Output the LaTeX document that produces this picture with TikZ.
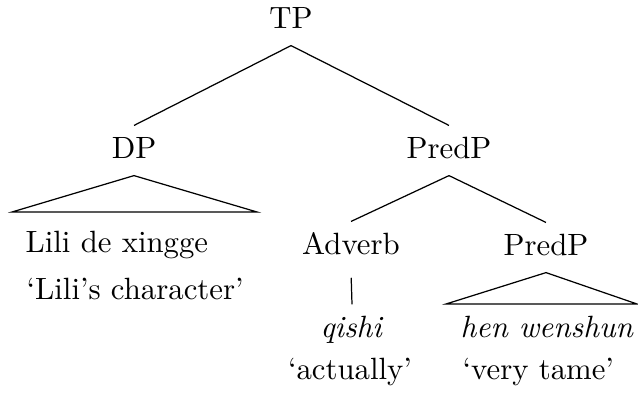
\documentclass[tikz,border=0pt]{standalone}
\usetikzlibrary{positioning,calc}
\tikzset{
  cat/.style={inner xsep=0pt, inner ysep=3.7pt, text height=7pt, text depth=1.5pt, anchor=base},
  leaf/.style={cat},
  gloss/.style={inner sep=0pt, anchor=base},
  branch/.style={line width=0.4pt},
}

\begin{document}
\begin{tikzpicture}[x=0.325pt, y=-0.325pt]
\useasboundingbox (0,0) rectangle (638,403);

% ---------------------------------------------------------------- categories
\node[cat] (tp) at (291,29) {TP};
\node[cat] (dp) at (134,159) {DP};
\node[cat] (predp) at (449,159) {PredP};
\node[cat] (adv) at (351,255) {Adverb};
\node[cat] (predpb) at (546,256) {PredP};

% ---------------------------------------------------------------- words
\node[leaf, anchor=base west] (lili) at (25,253) {Lili de xingge};
\node[gloss, anchor=base west] (liligl) at (26,300) {`Lili's character'};
\node[leaf] (qishi) at (352,338) {\textit{qishi}};
\node[gloss] (qishigl) at (350,380) {`actually'};
\node[leaf, anchor=base west] (hen) at (460,338) {\textit{hen wenshun}};
\node[gloss, anchor=base west] (hengl) at (462,380) {`very tame'};

% ---------------------------------------------------------------- branches
\draw[branch] (tp.south) -- (dp.north);
\draw[branch] (tp.south) -- (predp.north);
\draw[branch] (predp.south) -- (adv.north);
\draw[branch] (predp.south) -- (predpb.north);
\draw[branch, shorten <=2pt] (adv.south) -- (qishi.north);

% triangles
\coordinate (dpl) at (12,212);
\coordinate (dpr) at (257,212);
\draw[branch] (dpl) -- (dp.south) -- (dpr) -- cycle;
\coordinate (predpl) at (446,304);
\coordinate (predpr) at (637,304);
\draw[branch] (predpl) -- (predpb.south) -- (predpr) -- cycle;

\end{tikzpicture}
\end{document}
